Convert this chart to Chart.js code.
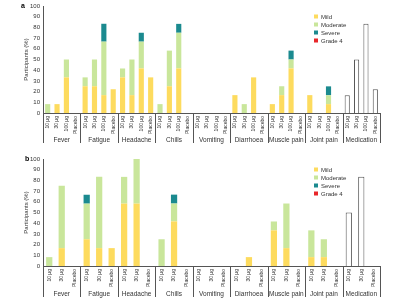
<!DOCTYPE html>
<html>
<head>
<meta charset="utf-8">
<script src="https://cdn.jsdelivr.net/npm/chart.js@4"></script>
<style>
  body { margin: 0; background: #fff; }
  .panel { position: absolute; left: 0; width: 400px; height: 150px; }
</style>
</head>
<body>
<div class="panel" style="top:0"><canvas id="chartA" width="400" height="150"></canvas></div>
<div class="panel" style="top:150px"><canvas id="chartB" width="400" height="150"></canvas></div>
<script>
// symptom groups, same for both panels
let groups = ['Fever', 'Fatigue', 'Headache', 'Chills', 'Vomiting', 'Diarrhoea', 'Muscle pain', 'Joint pain', 'Medication'];
let dosesA = ['10 µg', '30 µg', '100 µg', 'Placebo'];
let dosesB = ['10 µg', '30 µg', 'Placebo'];
let yTicks = [0, 10, 20, 30, 40, 50, 60, 70, 80, 90, 100];
let severity = ['Mild', 'Moderate', 'Severe', 'Grade 4'];
let severityColors = ['#fddb5e', '#c9e69b', '#1b8a8f', '#e8262a'];

// panel a: values per group, dose order 10, 30, 100, placebo (% participants)
let mildA     = [0, 8.3, 33.3, 0,   25, 25, 16.7, 22.2,   33.3, 16.7, 41.7, 33.3,   0, 25, 41.7, 0,   0, 0, 0, 0,   16.7, 0, 33.3, 0,   8.3, 16.7, 41.7, 0,   16.7, 0, 8.3, 0,   0, 0, 0, 0];
let moderateA = [8.3, 0, 16.7, 0,   8.3, 25, 50, 0,   8.3, 33.3, 25, 0,   8.3, 33.3, 33.3, 0,   0, 0, 0, 0,   0, 8.3, 0, 0,   0, 8.3, 8.3, 0,   0, 0, 8.3, 0,   0, 0, 0, 0];
let severeA   = [0, 0, 0, 0,   0, 0, 16.7, 0,   0, 0, 8.3, 0,   0, 0, 8.3, 0,   0, 0, 0, 0,   0, 0, 0, 0,   0, 0, 8.3, 0,   0, 0, 8.3, 0,   0, 0, 0, 0];
let grade4A   = new Array(36).fill(0);
let medicationA = [16.7, 50, 83.3, 22.2];

// panel b: dose order 10, 30, placebo
let mildB     = [0, 16.7, 0,   25, 16.7, 16.7,   58.3, 58.3, 0,   0, 41.7, 0,   0, 0, 0,   0, 8.3, 0,   33.3, 16.7, 0,   8.3, 8.3, 0,   0, 0, 0];
let moderateB = [8.3, 58.3, 0,   33.3, 66.7, 0,   25, 41.7, 0,   25, 16.7, 0,   0, 0, 0,   0, 0, 0,   8.3, 41.7, 0,   25, 16.7, 0,   0, 0, 0];
let severeB   = [0, 0, 0,   8.3, 0, 0,   0, 0, 0,   0, 8.3, 0,   0, 0, 0,   0, 0, 0,   0, 0, 0,   0, 0, 0,   0, 0, 0];
let grade4B   = new Array(27).fill(0);
let medicationB = [50, 83.3, 0];

const FONT = 'Liberation Sans, Arial, sans-serif';
const TXT = '#333';

function makeLabels(doses) {
    let out = [];
    groups.forEach(g => doses.forEach(d => out.push(g + '|' + d)));
    return out;
}

// draws separators, group names, legend and panel letter
const groupPlugin = {
    id: 'groupPlugin',
    afterDraw(chart, args, opts) {
        let ctx = chart.ctx;
        let x = chart.scales.x;
        let area = chart.chartArea;
        let n = opts.perGroup;
        let step = x.getPixelForValue(1) - x.getPixelForValue(0);
        ctx.save();
        ctx.strokeStyle = '#555';
        ctx.lineWidth = 1;
        // separator lines at group borders
        for (let g = 0; g <= groups.length; g++) {
            let px = g === 0 ? area.left : x.getPixelForValue(g * n - 1) + step / 2;
            px = Math.round(px) + 0.5;
            ctx.beginPath();
            ctx.moveTo(px, area.bottom);
            ctx.lineTo(px, opts.sepBottom);
            ctx.stroke();
        }
        // group names
        ctx.fillStyle = TXT;
        ctx.font = '6.5px ' + FONT;
        ctx.textAlign = 'center';
        ctx.textBaseline = 'middle';
        groups.forEach((g, i) => {
            let cx = (x.getPixelForValue(i * n) + x.getPixelForValue(i * n + n - 1)) / 2;
            ctx.fillText(g, cx, opts.groupY);
        });
        // legend
        ctx.textAlign = 'left';
        ctx.font = '6px ' + FONT;
        severity.forEach((s, i) => {
            let y = opts.legendY + i * 8;
            ctx.fillStyle = severityColors[i];
            ctx.fillRect(314, y - 2.5, 4, 4);
            ctx.fillStyle = TXT;
            ctx.fillText(s, 321, y);
        });
        // panel letter
        ctx.font = 'bold 7px ' + FONT;
        ctx.fillStyle = '#000';
        ctx.fillText(opts.letter, opts.letterX, opts.letterY);
        ctx.restore();
    }
};

function makeChart(id, doses, mild, moderate, severe, grade4, medication, cfg) {
    let labels = makeLabels(doses);
    let med = new Array(labels.length).fill(0);
    medication.forEach((v, i) => { med[labels.length - doses.length + i] = v; });
    let series = [mild, moderate, severe, grade4];
    let datasets = series.map((d, i) => ({
        label: severity[i],
        data: d,
        backgroundColor: severityColors[i],
        borderWidth: 0,
        barPercentage: cfg.barPct,
        categoryPercentage: 1,
        stack: 's'
    }));
    datasets.push({
        label: 'Medication',
        data: med,
        backgroundColor: '#ffffff',
        borderColor: '#555',
        borderWidth: 1,
        barPercentage: cfg.barPct,
        categoryPercentage: 1,
        stack: 's'
    });
    return new Chart(document.getElementById(id).getContext('2d'), {
        type: 'bar',
        data: { labels: labels, datasets: datasets },
        plugins: [groupPlugin],
        options: {
            responsive: false,
            animation: false,
            layout: { padding: { left: 23, right: 20, top: cfg.top, bottom: 0 } },
            plugins: {
                legend: { display: false },
                tooltip: { enabled: false },
                groupPlugin: cfg
            },
            scales: {
                x: {
                    stacked: true,
                    grid: { display: false, drawTicks: false },
                    border: { color: '#555', width: 1 },
                    afterFit: s => { s.height = cfg.xHeight; },
                    ticks: {
                        minRotation: 90, maxRotation: 90, autoSkip: false, padding: 3,
                        color: TXT, font: { family: FONT, size: 5 },
                        callback: function (v) { return this.getLabelForValue(v).split('|')[1]; }
                    }
                },
                y: {
                    stacked: true,
                    min: 0, max: 100,
                    afterBuildTicks: s => { s.ticks = yTicks.map(v => ({ value: v })); },
                    afterFit: s => { s.width = 20; },
                    grid: { display: false, drawTicks: true, tickLength: 2 },
                    border: { color: '#555', width: 1 },
                    ticks: { color: TXT, padding: 1, font: { family: FONT, size: 6 } },
                    title: { display: true, text: 'Participants (%)', color: TXT, padding: 0, font: { family: FONT, size: 6 } }
                }
            }
        }
    });
}

makeChart('chartA', dosesA, mildA, moderateA, severeA, grade4A, medicationA,
    { perGroup: 4, top: 6, xHeight: 37, sepBottom: 143, groupY: 140, legendY: 17, letter: 'a', letterX: 21, letterY: 6, barPct: 0.55 });
makeChart('chartB', dosesB, mildB, moderateB, severeB, grade4B, medicationB,
    { perGroup: 3, top: 9, xHeight: 34, sepBottom: 147, groupY: 144, legendY: 20, letter: 'b', letterX: 25, letterY: 9, barPct: 0.5 });
</script>
</body>
</html>
